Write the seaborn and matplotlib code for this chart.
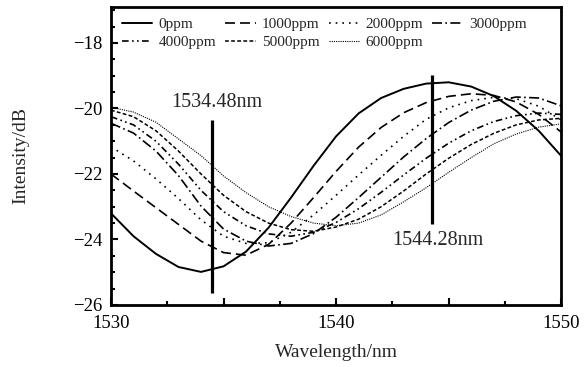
import pandas as pd
import matplotlib.pyplot as plt
import seaborn as sns
from matplotlib.ticker import MultipleLocator, FixedFormatter, FixedLocator

# wavelength grid (nm) and read-off intensities (dB) for each concentration
wavelength = list(range(1530, 1551))
concentrations = ['0ppm', '1000ppm', '2000ppm', '3000ppm', '4000ppm', '5000ppm', '6000ppm']

int_0 = [-23.2, -23.9, -24.44, -24.84, -24.99, -24.82, -24.37, -23.64, -22.72, -21.75, -20.85,
         -20.15, -19.68, -19.4, -19.24, -19.2, -19.33, -19.62, -20.07, -20.68, -21.45]
int_1000 = [-22.0, -22.52, -23.03, -23.54, -24.05, -24.4, -24.48, -24.15, -23.5, -22.72, -21.92,
            -21.18, -20.58, -20.13, -19.82, -19.63, -19.55, -19.6, -19.8, -20.18, -20.72]
int_2000 = [-21.17, -21.6, -22.15, -22.75, -23.4, -23.9, -24.12, -24.1, -23.78, -23.25, -22.65,
            -22.03, -21.43, -20.85, -20.33, -19.98, -19.76, -19.66, -19.7, -19.93, -20.35]
int_3000 = [-20.45, -20.75, -21.3, -22.05, -22.98, -23.68, -24.05, -24.2, -24.12, -23.82, -23.32,
            -22.72, -22.1, -21.48, -20.92, -20.43, -20.05, -19.78, -19.65, -19.68, -19.92]
int_4000 = [-20.25, -20.5, -21.0, -21.7, -22.5, -23.15, -23.58, -23.83, -23.9, -23.78, -23.48,
            -23.06, -22.56, -22.03, -21.52, -21.06, -20.68, -20.4, -20.22, -20.14, -20.18]
int_5000 = [-20.05, -20.25, -20.68, -21.3, -22.0, -22.65, -23.15, -23.5, -23.7, -23.75, -23.62,
            -23.38, -23.0, -22.52, -22.0, -21.52, -21.1, -20.76, -20.5, -20.35, -20.3]
int_6000 = [-19.96, -20.11, -20.42, -20.93, -21.44, -22.06, -22.57, -23.0, -23.3, -23.5, -23.58,
            -23.5, -23.25, -22.85, -22.42, -21.95, -21.5, -21.08, -20.78, -20.57, -20.47]

# marked wavelengths (vertical bars) and their labels
mark_wl = [1534.48, 1544.28]
mark_lo = [-25.63, -23.52]
mark_hi = [-20.36, -18.98]
mark_text = ['1534.48nm', '1544.28nm']
mark_text_x = [1534.7, 1544.5]
mark_text_y = [-19.83, -24.04]

series = [int_0, int_1000, int_2000, int_3000, int_4000, int_5000, int_6000]
df = pd.concat([pd.DataFrame({'wl': wavelength, 'val': s, 'conc': c})
                for s, c in zip(series, concentrations)], ignore_index=True)

sns.set_theme(style='ticks')
plt.rcParams['font.family'] = ['Liberation Serif', 'DejaVu Serif']

fig = plt.figure(figsize=(5.84, 3.67), dpi=100)
ax = fig.add_axes([0.190, 0.169, 0.771, 0.812])

dashes = {
    '0ppm': '',
    '1000ppm': (6, 3),
    '2000ppm': (1, 3),
    '3000ppm': (6, 2, 1, 2),
    '4000ppm': (4, 2, 1, 2, 1, 2),
    '5000ppm': (2.5, 1.5),
    '6000ppm': (1, 1),
}
sizes = {'0ppm': 1.4, '1000ppm': 1.2, '2000ppm': 1.2, '3000ppm': 1.2,
         '4000ppm': 1.2, '5000ppm': 1.1, '6000ppm': 0.8}

sns.lineplot(data=df, x='wl', y='val', hue='conc', style='conc', size='conc',
             palette=['black'] * 7, dashes=dashes, sizes=sizes, ax=ax)

ax.vlines(mark_wl, mark_lo, mark_hi, color='black', linewidth=2.3)
for tx, ty, t in zip(mark_text_x, mark_text_y, mark_text):
    ax.text(tx, ty, t, ha='center', va='center', fontsize=14.5)

ax.set_xlim(1530, 1550)
ax.set_ylim(-26, -16.9)
ax.xaxis.set_major_locator(FixedLocator([1530, 1535, 1540, 1545, 1550]))
ax.xaxis.set_major_formatter(FixedFormatter(['1530', '', '1540', '', '1550']))
ax.xaxis.set_minor_locator(MultipleLocator(2.5))
ax.yaxis.set_major_locator(MultipleLocator(2))
ax.yaxis.set_minor_locator(MultipleLocator(0.5))
ax.tick_params(which='both', direction='in', colors='black', labelsize=13.5, width=1.5)
ax.tick_params(which='major', length=5)
ax.tick_params(which='minor', length=3)
ax.tick_params(axis='x', pad=7)
ax.tick_params(axis='y', pad=6)
for sp in ax.spines.values():
    sp.set_linewidth(2)
    sp.set_color('black')

ax.set_xlabel('Wavelength/nm', fontsize=14, labelpad=9)
ax.set_ylabel('Intensity/dB', fontsize=14, labelpad=32)

handles, labels = ax.get_legend_handles_labels()
order = [0, 4, 1, 5, 2, 6, 3]
ax.legend([handles[i] for i in order], [labels[i] for i in order], ncol=4, frameon=False,
          loc='upper left', bbox_to_anchor=(0.0, 1.0), fontsize=11, handlelength=2.0,
          handletextpad=0.4, columnspacing=0.6, labelspacing=0.25, borderaxespad=0.3)

fig.savefig('out.png', dpi=100)
